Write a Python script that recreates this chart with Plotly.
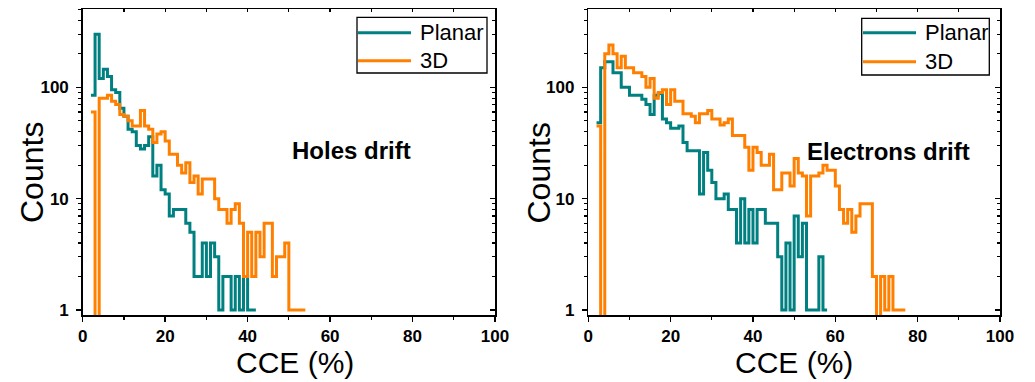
import plotly.graph_objects as go

# ---------------- data ----------------
bin_width = 1.0
holes_start = 2.0
holes_planar = [85, 300, 120, 145, 125, 95, 90, 65, 55, 42, 40, 30, 28, 30, 36, 16, 20, 12, 11, 7,
                8, 8, 8, 6, 5, 2, 2, 4, 2, 4, 3, 1, 2, 2, 1, 2, 1, 2, 1, 1]
holes_3d = [60, 0, 80, 80, 85, 75, 70, 57, 55, 50, 45, 45, 62, 45, 42, 32, 38, 40, 33, 25,
            25, 20, 17, 21, 14, 16, 11, 15, 15, 15, 10, 8, 8, 6, 8, 9, 6, 2, 5, 2,
            5, 3, 6, 6, 2, 3, 3, 4, 1, 1, 1, 1]

electrons_start = 2.0
electrons_planar = [48, 150, 170, 170, 135, 135, 100, 100, 85, 85, 85, 78, 70, 57, 85, 88, 52, 48, 43, 43,
                    45, 32, 27, 27, 27, 11, 26, 18, 14, 10, 10, 11, 8, 8, 4, 10, 4, 8, 4, 8,
                    8, 6, 6, 6, 3, 1, 4, 1, 7, 3, 6, 1, 1, 1, 3, 1]
electrons_3d = [45, 0, 200, 240, 200, 150, 190, 150, 150, 135, 135, 125, 100, 120, 80, 90, 95, 70, 95, 75,
                75, 58, 58, 55, 48, 58, 58, 62, 52, 52, 46, 48, 52, 37, 37, 37, 29, 18, 29, 26,
                20, 20, 25, 12, 12, 17, 17, 13, 23, 17, 16, 7, 16, 16, 17, 20, 18, 18, 13, 8,
                6, 8, 5, 7, 9, 9, 9, 2, 0, 2, 1, 2, 1, 1, 1]

series_names = ["Planar", "3D"]
panel_labels = ["Holes drift", "Electrons drift"]
x_title = "CCE (%)"
y_title = "Counts"
x_ticks = [0, 20, 40, 60, 80, 100]
y_ticks = [1, 10, 100]

# ---------------- styling ----------------
W, H = 1035, 382
TEAL = "#008080"
ORANGE = "#FF8000"
FONT = "Liberation Sans, Arial, sans-serif"
ZERO_FLOOR = 0.5  # empty bins drawn below the visible log range


def px(x):
    return x / W


def py(y):
    return 1 - y / H


def step_xy(start, counts):
    xs = [start + i * bin_width for i in range(len(counts))]
    xs.append(start + len(counts) * bin_width)
    ys = [c if c > 0 else ZERO_FLOOR for c in counts]
    ys.append(ys[-1])
    return xs, ys


fig = go.Figure()

panels = [
    ("x", "y", holes_start, holes_planar, holes_3d),
    ("x2", "y2", electrons_start, electrons_planar, electrons_3d),
]
for xa, ya, start, planar, d3 in panels:
    for counts, color, name in [(planar, TEAL, series_names[0]), (d3, ORANGE, series_names[1])]:
        xs, ys = step_xy(start, counts)
        fig.add_trace(go.Scatter(x=xs, y=ys, mode="lines", line=dict(color=color, width=3, shape="hv"),
                                 name=name, xaxis=xa, yaxis=ya, showlegend=False))

# dummy traces for the mirrored (inward-tick) frame axes
for xa, ya in [("x3", "y3"), ("x4", "y4")]:
    fig.add_trace(go.Scatter(x=[None], y=[None], xaxis=xa, yaxis=ya, showlegend=False, hoverinfo="skip"))

xL = [82.7 / W, 495 / W]
xR = [588.3 / W, 1000 / W]
yD = [1 - 315 / H, 1 - 9.3 / H]
yrange = [-0.045, 2.701]
minor_y = [k * 10 ** p for p in range(0, 3) for k in range(2, 10)]


def xaxis(domain, anchor):
    return dict(domain=domain, anchor=anchor, range=[0, 100], tickvals=x_ticks, ticks="outside",
                ticklen=5, tickwidth=1.5, tickcolor="black", showline=True, linecolor="black",
                linewidth=1.5, showgrid=False, zeroline=False, automargin=False,
                tickfont=dict(size=17, family=FONT, weight="bold", color="black"),
                minor=dict(ticks="outside", ticklen=3, tickwidth=1.2, tickcolor="black", dtick=10,
                           tick0=0, showgrid=False))


def yaxis(domain, anchor):
    return dict(domain=domain, anchor=anchor, type="log", range=yrange, tickvals=y_ticks,
                ticktext=[str(v) for v in y_ticks], ticks="outside", ticklen=5, tickwidth=1.5,
                tickcolor="black", showline=True, linecolor="black", linewidth=1.5, showgrid=False,
                zeroline=False, ticklabelstandoff=4, automargin=False,
                tickfont=dict(size=17, family=FONT, weight="bold", color="black"),
                minor=dict(ticks="outside", ticklen=3, tickwidth=1.2, tickcolor="black",
                           tickvals=minor_y, showgrid=False))


def xmirror(over, anchor):
    return dict(overlaying=over, anchor=anchor, side="top", range=[0, 100], dtick=10, tick0=0,
                ticks="inside", ticklen=3, tickwidth=1.2, tickcolor="black", showticklabels=False,
                showline=True, linecolor="black", linewidth=1.5, showgrid=False, zeroline=False,
                automargin=False)


def ymirror(over, anchor):
    return dict(overlaying=over, anchor=anchor, side="right", type="log", range=yrange,
                tickvals=y_ticks, ticks="inside", ticklen=5, tickwidth=1.5, tickcolor="black",
                showticklabels=False, showline=True, linecolor="black", linewidth=1.5,
                showgrid=False, zeroline=False, automargin=False,
                minor=dict(ticks="inside", ticklen=3, tickwidth=1.2, tickcolor="black",
                           tickvals=minor_y, showgrid=False))


fig.update_layout(
    width=W, height=H, margin=dict(l=0, r=0, t=0, b=0, pad=0, autoexpand=False),
    paper_bgcolor="white", plot_bgcolor="white", showlegend=False,
    font=dict(family=FONT, color="black"),
    xaxis=xaxis(xL, "y"), yaxis=yaxis(yD, "x"),
    xaxis2=xaxis(xR, "y2"), yaxis2=yaxis(yD, "x2"),
    xaxis3=xmirror("x", "y"), yaxis3=ymirror("y", "x"),
    xaxis4=xmirror("x2", "y2"), yaxis4=ymirror("y2", "x2"),
)

annotations = []
shapes = []
# axis titles
for cx, cyl in [(295, 32), (794, 538.5)]:
    annotations.append(dict(x=px(cx), y=py(362), xref="paper", yref="paper", text=x_title,
                            showarrow=False, xanchor="center", yanchor="middle",
                            font=dict(size=30, family=FONT, color="black")))
    annotations.append(dict(x=px(cyl), y=py(173), xref="paper", yref="paper", text=y_title,
                            textangle=-90, showarrow=False, xanchor="center", yanchor="middle",
                            font=dict(size=32, family=FONT, color="black")))
# panel labels
annotations.append(dict(x=px(290), y=py(150), xref="paper", yref="paper", text=panel_labels[0],
                        showarrow=False, xanchor="left", yanchor="middle",
                        font=dict(size=24, family=FONT, weight="bold", color="black")))
annotations.append(dict(x=px(805), y=py(151), xref="paper", yref="paper", text=panel_labels[1],
                        showarrow=False, xanchor="left", yanchor="middle",
                        font=dict(size=24, family=FONT, weight="bold", color="black")))

# manual legends
for (bx0, bx1, by0, by1, lx0, lx1, ly1, ly2, tx) in [
    (357, 487, 17.3, 73, 358, 411, 32.7, 60.7, 418),
    (861.7, 989.3, 18.3, 75, 863, 916, 32.7, 61.7, 922.7),
]:
    shapes.append(dict(type="rect", xref="paper", yref="paper", x0=px(bx0), x1=px(bx1),
                       y0=py(by1), y1=py(by0), line=dict(color="black", width=1.3),
                       fillcolor="white", layer="above"))
    for ly, color, name in [(ly1, TEAL, series_names[0]), (ly2, ORANGE, series_names[1])]:
        shapes.append(dict(type="line", xref="paper", yref="paper", x0=px(lx0), x1=px(lx1),
                           y0=py(ly), y1=py(ly), line=dict(color=color, width=3), layer="above"))
        annotations.append(dict(x=px(tx), y=py(ly), xref="paper", yref="paper", text=name,
                                showarrow=False, xanchor="left", yanchor="middle",
                                font=dict(size=22, family=FONT, color="black")))

fig.update_layout(annotations=annotations, shapes=shapes)
fig.write_html("out.html", config={"displayModeBar": False, "staticPlot": True},
               post_script="document.body.style.margin='0';document.body.style.overflow='hidden';")
